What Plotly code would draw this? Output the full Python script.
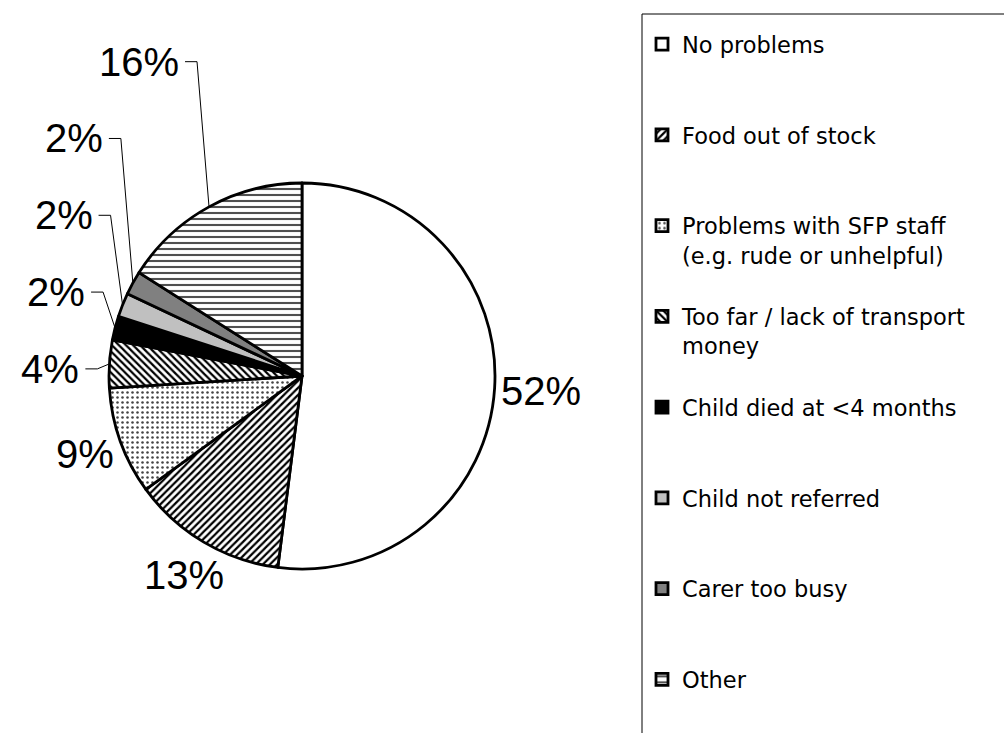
import math
import plotly.graph_objects as go

# Reasons given for not attending the SFP
categories = [
    "No problems",
    "Food out of stock",
    "Problems with SFP staff<br>(e.g. rude or unhelpful)",
    "Too far / lack of transport<br>money",
    "Child died at <4 months",
    "Child not referred",
    "Carer too busy",
    "Other",
]
shares = [52, 13, 9, 4, 2, 2, 2, 16]

fill_colors = ["#ffffff", "#ffffff", "#ffffff", "#ffffff", "#000000", "#c0c0c0", "#808080", "#ffffff"]
pattern_shapes = ["", "/", ".", "\\", "", "", "", "-"]
pattern_fg = ["#000000", "#000000", "#444444", "#000000", "#000000", "#000000", "#000000", "#505050"]
pattern_size = [6, 5, 5, 5, 6, 6, 6, 6]
pattern_solidity = [0.3, 0.45, 0.2, 0.45, 0.3, 0.3, 0.3, 0.35]


# pad every legend entry to three lines so the entries are evenly spaced
def legend_text(label, lines=3):
    n = label.count("<br>") + 1
    return label + "<br>\u00a0" * max(0, lines - n)


legend_labels = [legend_text(c) for c in categories[:-1]] + [legend_text(categories[-1], 2)]

W, H = 1004, 733
cx, cy, r = 302, 376, 193
label_size = 40
label_font = dict(family="Liberation Sans, Arial, sans-serif", size=label_size, color="#000000")


def px_to_paper(x, y):
    return x / W, 1 - y / H


fig = go.Figure(
    go.Pie(
        labels=legend_labels,
        values=shares,
        sort=False,
        direction="clockwise",
        rotation=0,
        textinfo="none",
        hoverinfo="label+percent",
        marker=dict(
            colors=fill_colors,
            line=dict(color="#000000", width=2.8),
            pattern=dict(
                shape=pattern_shapes,
                fgcolor=pattern_fg,
                bgcolor=fill_colors,
                size=pattern_size,
                solidity=pattern_solidity,
            ),
        ),
        domain=dict(
            x=[(cx - r) / W, (cx + r) / W],
            y=[(H - cy - r) / H, (H - cy + r) / H],
        ),
    )
)

# percentage labels outside the pie; the crowded upper-left ones are stacked
# upward and tied back to their slices with leader lines
total = sum(shares)
annotations = []
shapes = [
    dict(
        type="rect",
        xref="paper",
        yref="paper",
        x0=642 / W,
        x1=1.02,
        y0=-0.05,
        y1=1 - 14 / H,
        line=dict(color="#000000", width=1),
        fillcolor="rgba(0,0,0,0)",
        layer="below",
    )
]

cum = 0.0
prev_y = None
gap = 6
txt_h = 0.72 * label_size
stack_step = 1.92 * label_size
for v in shares:
    theta = (cum + v / 2) / total * 360
    cum += v
    t = math.radians(theta)
    ux, uy = math.sin(t), -math.cos(t)
    ex, ey = cx + r * ux, cy + r * uy
    txt = f"{round(100 * v / total)}%"
    txt_w = label_size * sum(0.889 if ch == "%" else 0.556 for ch in txt)
    if 270 <= theta < 360:
        ly = ey + 5 if prev_y is None else min(ey + 5, prev_y - stack_step)
        prev_y = ly
        tx, ty = px_to_paper(ex - 28, ly)
        annotations.append(dict(x=tx, y=ty, xref="paper", yref="paper", text=txt,
                                showarrow=False, xanchor="right", yanchor="middle",
                                font=label_font))
        p0 = px_to_paper(ex - 24, ly)
        p1 = px_to_paper(ex - 12, ly)
        p2 = px_to_paper(ex, ey)
        shapes.append(dict(
            type="path", xref="paper", yref="paper",
            path=f"M {p0[0]},{p0[1]} L {p1[0]},{p1[1]} L {p2[0]},{p2[1]}",
            line=dict(color="#000000", width=1),
        ))
    else:
        d = abs(ux) * txt_w / 2 + abs(uy) * txt_h / 2 + gap
        tx, ty = px_to_paper(ex + ux * d, ey + uy * d)
        annotations.append(dict(x=tx, y=ty, xref="paper", yref="paper", text=txt,
                                showarrow=False, xanchor="center", yanchor="middle",
                                font=label_font))

fig.update_layout(
    width=W,
    height=H,
    margin=dict(l=0, r=0, t=0, b=0, autoexpand=False),
    paper_bgcolor="#ffffff",
    plot_bgcolor="#ffffff",
    showlegend=True,
    legend=dict(
        x=642 / W,
        y=1 - 23 / H,
        xanchor="left",
        yanchor="top",
        valign="top",
        font=dict(family="DejaVu Sans, sans-serif", size=22.5, color="#000000"),
        bgcolor="rgba(0,0,0,0)",
        borderwidth=0,
        itemclick=False,
        itemdoubleclick=False,
    ),
    annotations=annotations,
    shapes=shapes,
)

fig.write_html("out.html")
